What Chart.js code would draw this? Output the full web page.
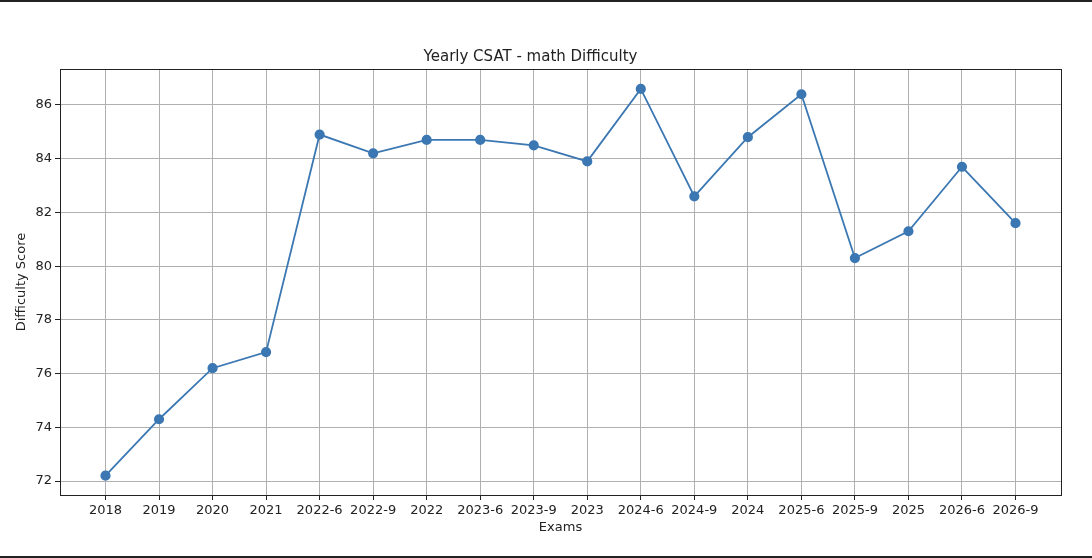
<!DOCTYPE html>
<html>
<head>
<meta charset="utf-8">
<script src="https://cdn.jsdelivr.net/npm/chart.js@4"></script>
<style>
  html, body { margin: 0; padding: 0; background: #fff; }
  #wrap { position: relative; width: 1092px; height: 558px; }
  .bar { position: absolute; left: 0; width: 1092px; background: #222; }
</style>
</head>
<body>
<div id="wrap">
  <canvas id="csatChart" width="1092" height="558"></canvas>
  <div class="bar" style="top:0;height:2px"></div>
  <div class="bar" style="top:556px;height:2px"></div>
</div>
<script>
// exam labels along the x axis
const exams = ["2018", "2019", "2020", "2021", "2022-6", "2022-9", "2022", "2023-6", "2023-9",
  "2023", "2024-6", "2024-9", "2024", "2025-6", "2025-9", "2025", "2026-6", "2026-9"];
// difficulty score per exam
const scores = [72.2, 74.3, 76.2, 76.8, 84.9, 84.2, 84.7, 84.7, 84.5,
  83.9, 86.6, 82.6, 84.8, 86.4, 80.3, 81.3, 83.7, 81.6];
// y tick labels
const yTicks = [72, 74, 76, 78, 80, 82, 84, 86];

const font = "'DejaVu Sans', sans-serif";

// right/top spines like a matplotlib box
const frame = {
  id: "frame",
  afterDraw(chart) {
    const { ctx, chartArea: a } = chart;
    ctx.save();
    ctx.strokeStyle = "#222";
    ctx.lineWidth = 1;
    ctx.strokeRect(a.left + 0.5, a.top + 0.5, a.right - a.left, a.bottom - a.top);
    ctx.restore();
  }
};

const ctx = document.getElementById("csatChart").getContext("2d");

new Chart(ctx, {
  type: "line",
  data: {
    datasets: [{
      data: scores.map((v, i) => ({ x: i, y: v })),
      borderColor: "#3b77b2",
      backgroundColor: "#3b77b2",
      borderWidth: 1.8,
      pointRadius: 4.2,
      pointHoverRadius: 4.2,
      tension: 0
    }]
  },
  options: {
    responsive: false,
    animation: false,
    layout: { padding: { left: 0, right: 31, top: 0, bottom: 0 } },
    plugins: {
      legend: { display: false },
      tooltip: { enabled: false },
      title: {
        display: true,
        text: "Yearly CSAT - math Difficulty",
        color: "#222",
        font: { family: font, size: 15, weight: "normal" },
        padding: { top: 48, bottom: 3 }
      }
    },
    scales: {
      x: {
        type: "linear",
        min: -0.85,
        max: 17.85,
        afterBuildTicks: s => { s.ticks = exams.map((_, i) => ({ value: i })); },
        afterFit: s => { s.height = 63; },
        ticks: {
          autoSkip: false,
          maxRotation: 0,
          color: "#222",
          padding: 3,
          font: { family: font, size: 13 },
          callback: v => exams[v]
        },
        grid: { color: "#b0b0b0", tickColor: "#222", tickLength: 5, lineWidth: 1 },
        border: { color: "#222", width: 1 },
        title: {
          display: true,
          text: "Exams",
          color: "#222",
          font: { family: font, size: 13 },
          padding: { top: 0, bottom: 23 }
        }
      },
      y: {
        min: 71.48,
        max: 87.34,
        afterBuildTicks: s => { s.ticks = yTicks.map(v => ({ value: v })); },
        afterFit: s => { s.width = 60; },
        ticks: {
          color: "#222",
          padding: 3,
          font: { family: font, size: 13 },
        },
        grid: { color: "#b0b0b0", tickColor: "#222", tickLength: 5, lineWidth: 1 },
        border: { color: "#222", width: 1 },
        title: {
          display: true,
          text: "Difficulty Score",
          color: "#222",
          font: { family: font, size: 13 },
          padding: { top: 14, bottom: 0 }
        }
      }
    }
  },
  plugins: [frame]
});
</script>
</body>
</html>
